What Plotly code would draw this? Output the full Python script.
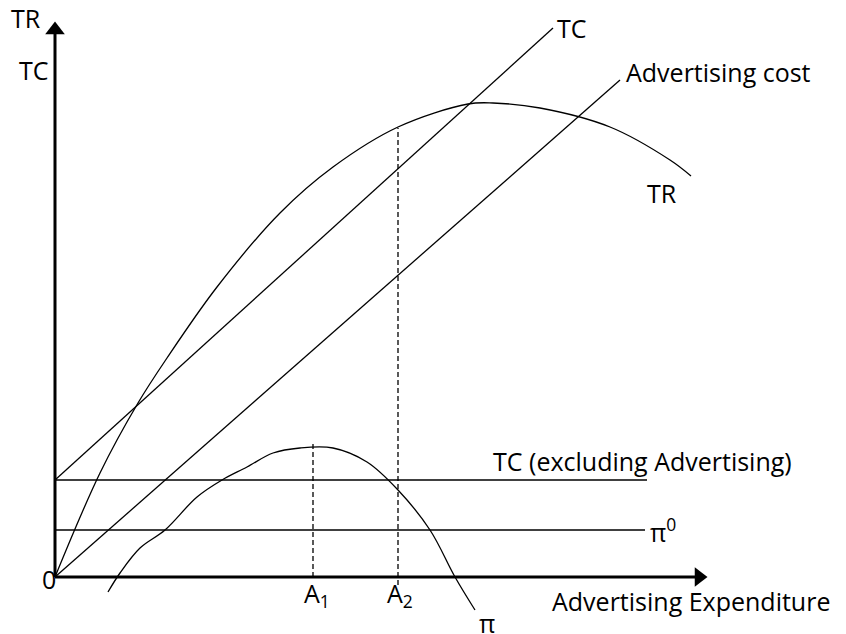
import plotly.graph_objects as go

# values (origin of the axes = 0,0)
tr_x = [0, 45, 83, 112, 162, 225, 278, 343, 413, 438, 485, 555, 615, 636]
tr_y = [0, 104, 174, 219, 290, 364, 410, 450, 473, 474, 469, 450, 417, 401]

pi_x = [53, 65, 85, 110, 142, 167, 192, 218, 245, 278, 312, 343, 375, 400, 420]
pi_y = [-15, 4, 29, 47, 80, 97, 110, 124, 129, 129, 115, 87, 47, 0, -33]

tc_x = [0, 498]
tc_y = [97, 549]
adv_x = [0, 565]
adv_y = [0, 497]
tc_excl_x = [0, 592]
tc_excl_y = [97, 97]
pi0_x = [0, 590]
pi0_y = [47, 47]

a1_x = [258, 258]
a1_y = [0, 135]
a2_x = [343, 343]
a2_y = [-8, 449]

x_axis_x = [0, 644]
x_axis_y = [0, 0]
y_axis_x = [0, 0]
y_axis_y = [0, 547]

font = dict(family="'Open Sans', sans-serif", size=25, color="black")
thin = dict(color="black", width=1.3)
dashed = dict(color="black", width=1.3, dash="5px,3px")

fig = go.Figure()

def add_line(xs, ys, line, shape="linear"):
    fig.add_trace(go.Scatter(x=xs, y=ys, mode="lines", line=dict(shape=shape, **line),
                             hoverinfo="skip", showlegend=False))

add_line(tr_x, tr_y, thin, "spline")
add_line(pi_x, pi_y, thin, "spline")
add_line(tc_x, tc_y, thin)
add_line(adv_x, adv_y, thin)
add_line(tc_excl_x, tc_excl_y, thin)
add_line(pi0_x, pi0_y, thin)
add_line(a1_x, a1_y, dashed)
add_line(a2_x, a2_y, dashed)

# axes, arrowheads as triangle markers at the ends
add_line(x_axis_x, x_axis_y, dict(color="black", width=3))
add_line(y_axis_x, y_axis_y, dict(color="black", width=3))
fig.add_trace(go.Scatter(x=[x_axis_x[-1]], y=[0], mode="markers", hoverinfo="skip", showlegend=False,
                         marker=dict(symbol="triangle-right", size=17, color="black")))
fig.add_trace(go.Scatter(x=[0], y=[y_axis_y[-1]], mode="markers", hoverinfo="skip", showlegend=False,
                         marker=dict(symbol="triangle-up", size=17, color="black")))

labels = [
    (-29, 559, "TR", "center"),
    (-21, 507, "TC", "center"),
    (-6, -2, "0", "center"),
    (500, 549, "TC", "left"),
    (569, 505, "Advertising cost", "left"),
    (607, 384, "TR", "center"),
    (436, 116, "TC (excluding Advertising)", "left"),
    (593, 47, "π<sup>0</sup>", "left"),
    (262, -17, "A<sub>1</sub>", "center"),
    (345, -17, "A<sub>2</sub>", "center"),
    (432, -46, "π", "center"),
    (495, -24, "Advertising Expenditure", "left"),
]
for x, y, t, anchor in labels:
    fig.add_annotation(x=x, y=y, text=t, showarrow=False, xanchor=anchor, yanchor="middle", font=font)

# page body has an 8px margin, so the figure is 8px smaller and starts at (8, 8)
fig.update_xaxes(range=[-47, 791], visible=False, fixedrange=True)
fig.update_yaxes(range=[-57, 569], visible=False, fixedrange=True)
fig.update_layout(width=838, height=626, margin=dict(l=0, r=0, t=0, b=0),
                  plot_bgcolor="white", paper_bgcolor="white")

fig.write_html("out.html")
